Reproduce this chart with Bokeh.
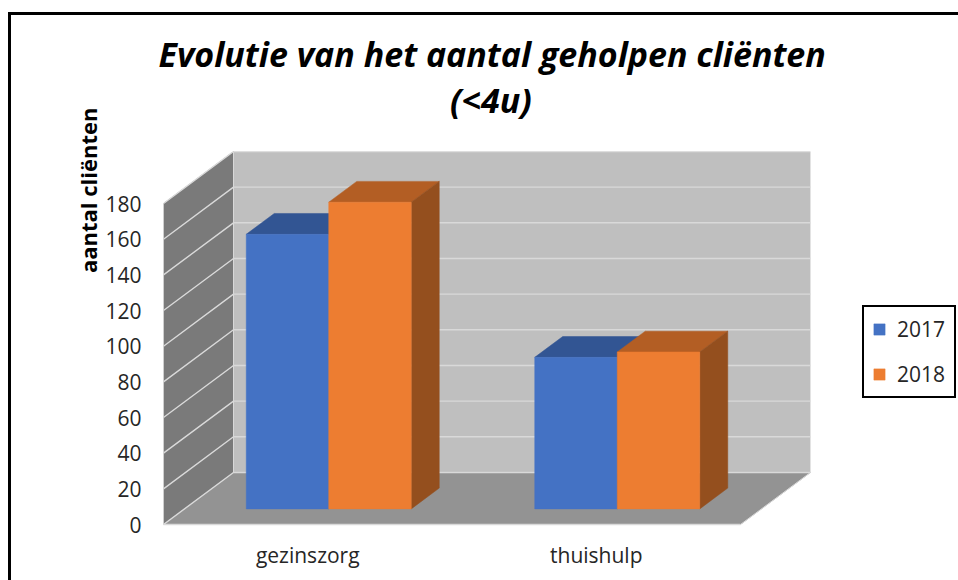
from bokeh.plotting import figure
from bokeh.models import Range1d, LinearAxis, FixedTicker, Legend, LegendItem, Title
from bokeh.embed import file_html
from bokeh.resources import INLINE

categories = ["gezinszorg", "thuishulp"]
years = ["2017", "2018"]
series_2017 = [154, 85]
series_2018 = [172, 88]
y_ticks = [0, 20, 40, 60, 80, 100, 120, 140, 160, 180]
title_line_1 = "Evolutie van het aantal geholpen cliënten"
title_line_2 = "(<4u)"
y_title = "aantal cliënten"

FONT = "Open Sans"
DX, DY = 0.2426, 29.2   # oblique offset of full chart depth, in data units
BAR_W = 0.286
Z0, Z1 = 0.3, 0.7       # bar depth extent
XMIN, XMAX = -0.5, 1.5
YMAX = y_ticks[-1]

p = figure(width=958, height=580, frame_width=647, frame_height=373,
           output_backend="svg", toolbar_location=None,
           x_range=Range1d(XMIN, XMAX + DX), y_range=Range1d(0, YMAX + DY),
           min_border_left=163, min_border_right=148, min_border_top=151, min_border_bottom=56,
           x_axis_type=None, y_axis_type=None, outline_line_color=None,
           background_fill_color=None, border_fill_color=None)
p.grid.visible = False
p.styles = {
    "background": "linear-gradient(black,black) 8px 12px/3px 100% no-repeat,"
                  "linear-gradient(black,black) 8px 12px/100% 3px no-repeat",
}

def prj(x, v, z):
    return x + z * DX, v + z * DY

def poly(points, color):
    xs, ys = zip(*[prj(*pt) for pt in points])
    return p.patch(list(xs), list(ys), fill_color=color, line_color=color, line_width=0.5)

# walls and floor
poly([(XMIN, 0, 1), (XMAX, 0, 1), (XMAX, YMAX, 1), (XMIN, YMAX, 1)], "#BFBFBF")
poly([(XMIN, 0, 0), (XMIN, 0, 1), (XMIN, YMAX, 1), (XMIN, YMAX, 0)], "#7A7A7A")
poly([(XMIN, 0, 0), (XMAX, 0, 0), (XMAX, 0, 1), (XMIN, 0, 1)], "#939393")

# gridlines
GRID = "#D9D9D9"
for t in y_ticks:
    a = prj(XMIN, t, 0); b = prj(XMIN, t, 1); c = prj(XMAX, t, 1)
    p.line([a[0], b[0], c[0]], [a[1], b[1], c[1]], line_color=GRID, line_width=1.4)
a = prj(XMIN, 0, 0); b = prj(XMIN, YMAX, 0)
p.line([a[0], b[0]], [a[1], b[1]], line_color=GRID, line_width=1)
a = prj(XMAX, 0, 0); b = prj(XMAX, 0, 1)
p.line([a[0], b[0]], [a[1], b[1]], line_color=GRID, line_width=1)
a = prj(XMIN, 0, 1); b = prj(XMIN, YMAX, 1)
p.line([a[0], b[0]], [a[1], b[1]], line_color=GRID, line_width=1)

# bars
STYLE = {"2017": ("#4472C4", "#325593", "#325593"), "2018": ("#ED7D31", "#B35E24", "#944F1E")}
renderers = {}
for i in range(len(categories)):
    for yr, vals, off in (("2017", series_2017, -1), ("2018", series_2018, 0)):
        v = vals[i]
        l, r = i + off * BAR_W, i + (off + 1) * BAR_W
        front, top, side = STYLE[yr]
        poly([(l, v, Z0), (r, v, Z0), (r, v, Z1), (l, v, Z1)], top)
        poly([(r, 0, Z0), (r, 0, Z1), (r, v, Z1), (r, v, Z0)], side)
        renderers[yr] = poly([(l, 0, Z0), (r, 0, Z0), (r, v, Z0), (l, v, Z0)], front)

# axes
yaxis = LinearAxis(ticker=FixedTicker(ticks=y_ticks), axis_line_color=None,
                   major_tick_line_color=None, minor_tick_line_color=None,
                   major_label_standoff=16, major_label_text_font=FONT,
                   major_label_text_font_size="21px", major_label_text_color="#262626")
p.add_layout(yaxis, "left")
p.add_layout(Title(text=y_title, align="right", offset=-44, standoff=0, text_font=FONT,
                   text_font_size="22px", text_font_style="bold", text_color="black"), "left")
xaxis = LinearAxis(ticker=FixedTicker(ticks=[0, 1]),
                   major_label_overrides={i: c for i, c in enumerate(categories)},
                   bounds=(XMIN, XMAX), axis_line_color=GRID, axis_line_width=1.4,
                   major_tick_line_color=None, minor_tick_line_color=None,
                   major_label_standoff=10, major_label_text_font=FONT,
                   major_label_text_font_size="21px", major_label_text_color="#262626")
p.add_layout(xaxis, "below")

# title: one two-line text, the second line indented to sit centred under the first
p.add_layout(Title(text=title_line_1 + "\n" + "\u00a0" * 33 + title_line_2, align="left", offset=-5,
                   standoff=57, text_font=FONT, text_font_size="34px",
                   text_font_style="bold italic", text_color="black"), "above")

# legend
legend = Legend(items=[LegendItem(label=y, renderers=[renderers[y]]) for y in years],
                location=(52, 126), orientation="vertical",
                border_line_color="black", border_line_width=2.5, border_line_alpha=1,
                background_fill_color="white",
                background_fill_alpha=1, label_text_font=FONT, label_text_font_size="21px",
                label_text_color="#262626", glyph_width=14, glyph_height=14, spacing=17,
                label_standoff=11, label_width=49, padding=8, margin=0)
p.add_layout(legend, "right")

open("out.html", "w").write(file_html(p, INLINE))
